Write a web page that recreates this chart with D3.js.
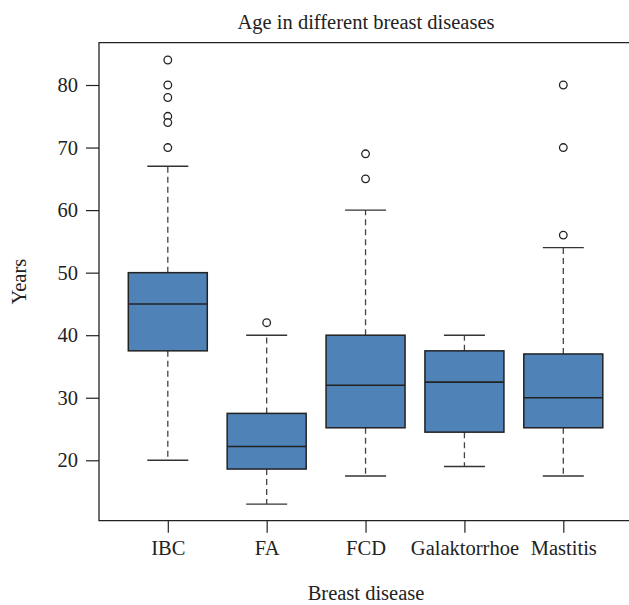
<!DOCTYPE html>
<html>
<head>
<meta charset="utf-8">
<script src="https://cdn.jsdelivr.net/npm/d3@7"></script>
<style>
  html, body { margin: 0; padding: 0; background: #fff; overflow: hidden; }
  svg { display: block; }
  text { font-family: "Liberation Serif", "DejaVu Serif", serif; fill: #222; }
</style>
</head>
<body>
<div id="chart"></div>
<script>
const categories = ['IBC', 'FA', 'FCD', 'Galaktorrhoe', 'Mastitis'];
const lowerWhisker = [20, 13, 17.5, 19, 17.5];
const q1 = [37.5, 18.6, 25.2, 24.5, 25.2];
const median = [45, 22.2, 32, 32.5, 30];
const q3 = [50, 27.5, 40, 37.5, 37];
const upperWhisker = [67, 40, 60, 40, 54];
const outliers = [
    [84, 80, 78, 75, 74, 70],
    [42],
    [69, 65],
    [],
    [80, 70, 56],
];
const yTicks = [20, 30, 40, 50, 60, 70, 80];

const W = 629, H = 605;
const plot = { left: 99, top: 42.7, right: 640, bottom: 520.7 };
const boxHalf = 39.5, capHalf = 20.5;
const fontSize = '20.5px';

const svg = d3.select('#chart').append('svg')
    .attr('width', W)
    .attr('height', H);

const x = d3.scalePoint()
    .domain(categories)
    .range([167.8, 563.3]);
const y = d3.scaleLinear()
    .domain([20, 80])
    .range([460.3, 85]);

const boxes = categories.map((c, i) => ({
    cat: c,
    lo: lowerWhisker[i], q1: q1[i], med: median[i], q3: q3[i], hi: upperWhisker[i],
    out: outliers[i],
}));

// frame (right side runs off the picture)
svg.append('path')
    .attr('d', `M${plot.right},${plot.top}H${plot.left}V${plot.bottom}H${plot.right}`)
    .attr('fill', 'none')
    .attr('stroke', '#222')
    .attr('stroke-width', 1.3);

// y axis
const yAxis = svg.append('g')
    .attr('transform', `translate(${plot.left},0)`)
    .call(d3.axisLeft(y).tickValues(yTicks).tickSize(13).tickPadding(8));
yAxis.select('.domain').remove();
yAxis.selectAll('line').attr('stroke', '#222').attr('stroke-width', 1.2);
yAxis.selectAll('text')
    .attr('font-size', fontSize)
    .attr('font-family', '"Liberation Serif", serif')
    .attr('fill', '#222');

// x axis
const xAxis = svg.append('g')
    .attr('transform', `translate(0,${plot.bottom})`)
    .call(d3.axisBottom(x).tickSize(12).tickPadding(8));
xAxis.select('.domain').remove();
xAxis.selectAll('line').attr('stroke', '#222').attr('stroke-width', 1.2);
xAxis.selectAll('text')
    .attr('font-size', fontSize)
    .attr('font-family', '"Liberation Serif", serif')
    .attr('fill', '#222');

const g = svg.append('g').selectAll('g')
    .data(boxes)
    .enter()
    .append('g');

// dashed whiskers
g.append('line')
    .attr('x1', d => x(d.cat)).attr('x2', d => x(d.cat))
    .attr('y1', d => y(d.q3)).attr('y2', d => y(d.hi))
    .attr('stroke', '#444').attr('stroke-width', 1.3)
    .attr('stroke-dasharray', '6,4');
g.append('line')
    .attr('x1', d => x(d.cat)).attr('x2', d => x(d.cat))
    .attr('y1', d => y(d.q1)).attr('y2', d => y(d.lo))
    .attr('stroke', '#444').attr('stroke-width', 1.3)
    .attr('stroke-dasharray', '6,4');

// caps
g.append('line')
    .attr('x1', d => x(d.cat) - capHalf).attr('x2', d => x(d.cat) + capHalf)
    .attr('y1', d => y(d.hi)).attr('y2', d => y(d.hi))
    .attr('stroke', '#333').attr('stroke-width', 1.4);
g.append('line')
    .attr('x1', d => x(d.cat) - capHalf).attr('x2', d => x(d.cat) + capHalf)
    .attr('y1', d => y(d.lo)).attr('y2', d => y(d.lo))
    .attr('stroke', '#333').attr('stroke-width', 1.4);

// boxes
g.append('rect')
    .attr('x', d => x(d.cat) - boxHalf)
    .attr('width', boxHalf * 2)
    .attr('y', d => y(d.q3))
    .attr('height', d => y(d.q1) - y(d.q3))
    .attr('fill', '#4f82b6')
    .attr('stroke', '#222')
    .attr('stroke-width', 1.5);

// median
g.append('line')
    .attr('x1', d => x(d.cat) - boxHalf).attr('x2', d => x(d.cat) + boxHalf)
    .attr('y1', d => y(d.med)).attr('y2', d => y(d.med))
    .attr('stroke', '#222').attr('stroke-width', 1.6);

// outliers
g.selectAll('circle')
    .data(d => d.out.map(v => ({ cat: d.cat, v })))
    .enter()
    .append('circle')
    .attr('cx', d => x(d.cat))
    .attr('cy', d => y(d.v))
    .attr('r', 3.8)
    .attr('fill', '#fff')
    .attr('stroke', '#222')
    .attr('stroke-width', 1.3);

// titles
svg.append('text')
    .attr('x', 366).attr('y', 29)
    .attr('text-anchor', 'middle')
    .attr('font-size', fontSize)
    .text('Age in different breast diseases');

svg.append('text')
    .attr('transform', `translate(26,${(plot.top + plot.bottom) / 2}) rotate(-90)`)
    .attr('text-anchor', 'middle')
    .attr('font-size', fontSize)
    .text('Years');

svg.append('text')
    .attr('x', 366).attr('y', 600)
    .attr('text-anchor', 'middle')
    .attr('font-size', fontSize)
    .text('Breast disease');
</script>
</body>
</html>
